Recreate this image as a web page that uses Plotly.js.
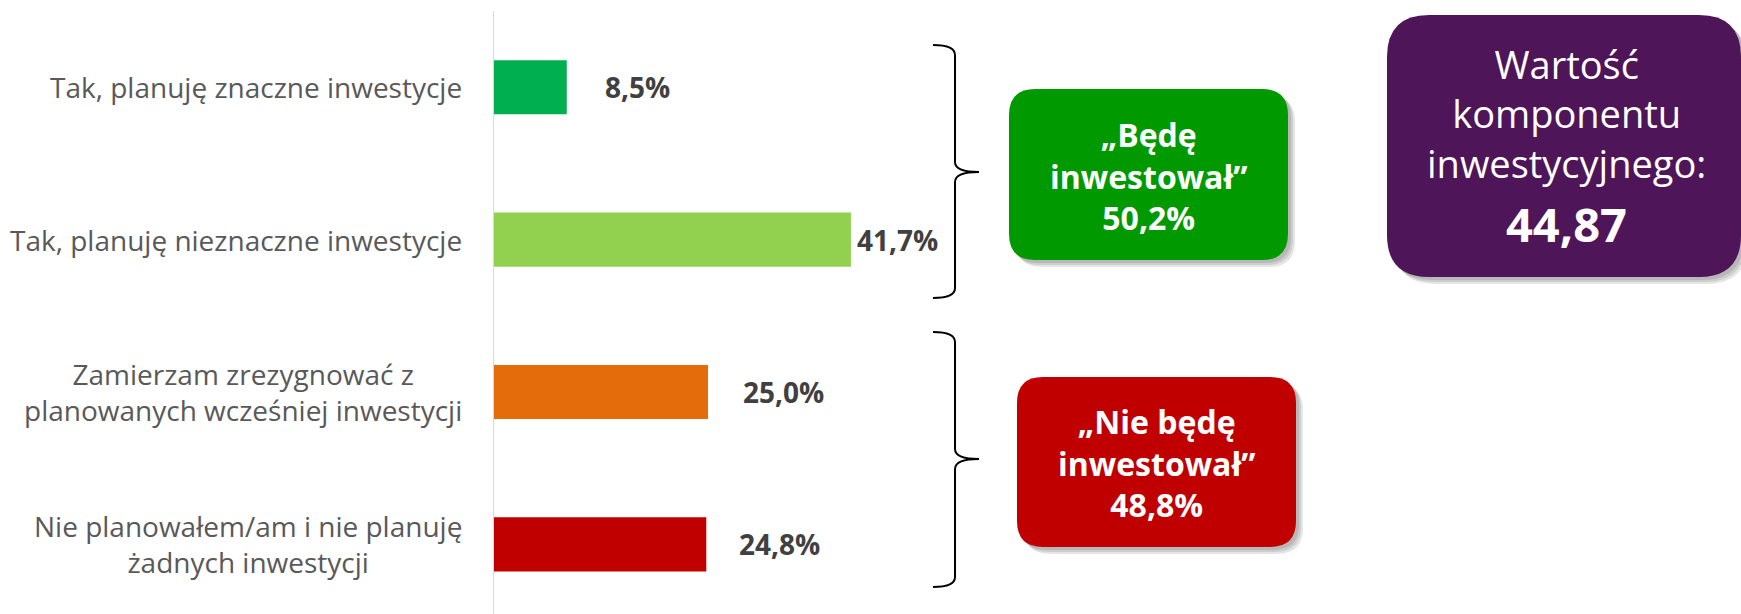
<!DOCTYPE html>
<html>
<head>
<meta charset="utf-8">
<script src="https://cdn.plot.ly/plotly-3.0.1.min.js"></script>
<style>
  html, body { margin: 0; padding: 0; background: #ffffff; }
  #chart { width: 1741px; height: 614px; }
</style>
</head>
<body>
<div id="chart"></div>
<script>
// ---- data ----
const categories = [
  "Tak, planuję znaczne inwestycje",
  "Tak, planuję nieznaczne inwestycje",
  "Zamierzam zrezygnować z<br>planowanych wcześniej inwestycji",
  "Nie planowałem/am i nie planuję<br>żadnych inwestycji"
];
const values = [8.5, 41.7, 25.0, 24.8];
const groupLabels = ["„Będę<br>inwestował”", "„Nie będę<br>inwestował”"];
const groupValues = [50.2, 48.8];
const componentLabel = "Wartość<br>komponentu<br>inwestycyjnego:";
const componentValue = 44.87;

// ---- style ----
const W = 1741, H = 614;
const FONT = "Open Sans, Lato, DejaVu Sans, sans-serif";
const barColors = ["#00B050", "#92D050", "#E46C0A", "#C00000"];
const labelShift = [36, 4, 33, 31];
const axisX = 494;

const fmt = (v, d) => v.toFixed(d).replace(".", ",");
const px = x => x / W;
const py = y => 1 - y / H;
const pt = (x, y) => px(x).toFixed(5) + "," + py(y).toFixed(5);

function roundRect(x0, y0, x1, y1, r) {
  return "M" + pt(x0 + r, y0) +
    " L" + pt(x1 - r, y0) + " Q" + pt(x1, y0) + " " + pt(x1, y0 + r) +
    " L" + pt(x1, y1 - r) + " Q" + pt(x1, y1) + " " + pt(x1 - r, y1) +
    " L" + pt(x0 + r, y1) + " Q" + pt(x0, y1) + " " + pt(x0, y1 - r) +
    " L" + pt(x0, y0 + r) + " Q" + pt(x0, y0) + " " + pt(x0 + r, y0) + " Z";
}
function brace(x0, xv, xt, yTop, yMid, yBot) {
  const c = 10;
  return "M" + pt(x0, yTop) +
    " Q" + pt(xv, yTop) + " " + pt(xv, yTop + c) +
    " L" + pt(xv, yMid - c) +
    " Q" + pt(xv, yMid) + " " + pt(xt, yMid) +
    " Q" + pt(xv, yMid) + " " + pt(xv, yMid + c) +
    " L" + pt(xv, yBot - c) +
    " Q" + pt(xv, yBot) + " " + pt(x0, yBot);
}

const boxes = [
  {x0: 1009, y0: 89, x1: 1288, y1: 260, r: 26, color: "#009900"},
  {x0: 1017, y0: 377, x1: 1296, y1: 547, r: 26, color: "#C00000"},
  {x0: 1387, y0: 15, x1: 1741, y1: 277, r: 42, color: "#4E1558"}
];

const shapes = [];
boxes.forEach(b => {
  [7, 5, 3].forEach(o => {
    shapes.push({type: "path", xref: "paper", yref: "paper",
      path: roundRect(b.x0 + o, b.y0 + o, b.x1 + o, b.y1 + o, b.r),
      fillcolor: "rgba(0,0,0,0.10)", line: {width: 0}, layer: "below"});
  });
  shapes.push({type: "path", xref: "paper", yref: "paper",
    path: roundRect(b.x0, b.y0, b.x1, b.y1, b.r),
    fillcolor: b.color, line: {width: 0}, layer: "above"});
});
shapes.push({type: "path", xref: "paper", yref: "paper",
  path: brace(933, 955, 979, 45, 172, 298), line: {color: "#000000", width: 2}});
shapes.push({type: "path", xref: "paper", yref: "paper",
  path: brace(933, 955, 979, 332, 459, 587), line: {color: "#000000", width: 2}});

const annotations = [];
categories.forEach((c, i) => {
  annotations.push({xref: "paper", yref: "y", x: px(axisX), y: c, xanchor: "right",
    xshift: -30, showarrow: false, align: "center", text: c,
    font: {family: FONT, size: 28, color: "#595959"}});
  annotations.push({xref: "x", yref: "y", x: values[i], y: c, xanchor: "left",
    xshift: labelShift[i], showarrow: false, text: fmt(values[i], 1) + "%",
    font: {family: FONT, size: 28, color: "#404040", weight: 700}});
});
const groupCenters = [[1148, 176], [1156, 463]];
groupLabels.forEach((g, i) => {
  annotations.push({xref: "paper", yref: "paper", x: px(groupCenters[i][0]), y: py(groupCenters[i][1]),
    xanchor: "center", yanchor: "middle", showarrow: false, align: "center",
    text: g + "<br>" + fmt(groupValues[i], 1) + "%",
    font: {family: FONT, size: 32, color: "#ffffff", weight: 700}});
});
annotations.push({xref: "paper", yref: "paper", x: px(1566), y: py(114),
  xanchor: "center", yanchor: "middle", showarrow: false, align: "center",
  text: componentLabel, font: {family: FONT, size: 38, color: "#ffffff"}});
annotations.push({xref: "paper", yref: "paper", x: px(1566), y: py(224),
  xanchor: "center", yanchor: "middle", showarrow: false, align: "center",
  text: fmt(componentValue, 2), font: {family: FONT, size: 47, color: "#ffffff", weight: 700}});

const trace = {
  type: "bar", orientation: "h",
  x: values, y: categories,
  width: 0.355,
  marker: {color: barColors, line: {width: 0}},
  hoverinfo: "skip"
};

const layout = {
  width: W, height: H,
  margin: {l: 0, r: 0, t: 0, b: 0, pad: 0},
  paper_bgcolor: "#ffffff", plot_bgcolor: "rgba(0,0,0,0)",
  showlegend: false, hovermode: false,
  xaxis: {domain: [px(axisX), px(axisX + 428)], range: [0, 50], visible: false, fixedrange: true},
  yaxis: {type: "category", categoryorder: "array", categoryarray: categories,
    domain: [0, py(11)], range: [3.457, -0.5],
    showticklabels: false, ticks: "", showgrid: false, zeroline: false,
    showline: true, linecolor: "#D9D9D9", linewidth: 1.5, fixedrange: true},
  shapes: shapes,
  annotations: annotations
};

Plotly.newPlot("chart", [trace], layout, {displayModeBar: false, staticPlot: true});
</script>
</body>
</html>
